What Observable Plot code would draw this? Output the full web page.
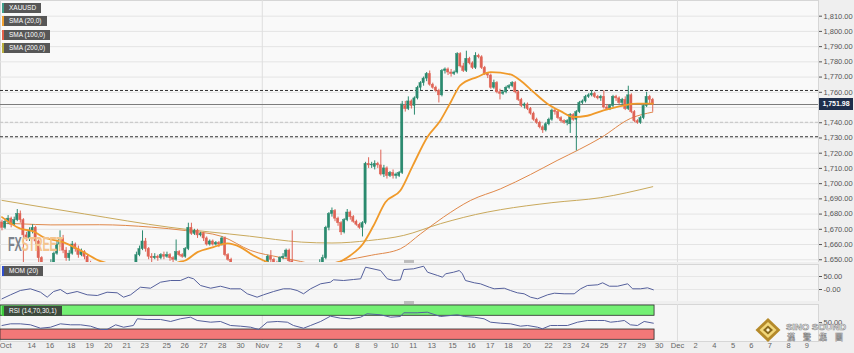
<!DOCTYPE html>
<html><head><meta charset="utf-8">
<script src="https://cdn.jsdelivr.net/npm/d3@7"></script>
<script src="https://cdn.jsdelivr.net/npm/@observablehq/plot@0.6"></script>
<style>
body{margin:0;background:#fff;font-family:"Liberation Sans",Arial,sans-serif;}
#wrap{position:relative;width:854px;height:353px;overflow:hidden;background:#efefef;}
#wrap svg{position:absolute;left:0;}
.tag{position:absolute;left:2px;height:10px;background:#575757;color:#fff;font-size:6.5px;line-height:10px;padding:0 5px 0 5px;border-left:2px solid #999;white-space:nowrap;}
.handle{position:absolute;left:404px;width:10px;height:3px;background:#bdbdbd;}
#ptag{position:absolute;left:819px;width:34px;height:12px;background:#1f2e4b;color:#fff;font-size:7px;font-weight:bold;line-height:12px;text-align:center;}
#fx{position:absolute;left:8px;top:232px;font-size:21px;font-weight:bold;transform:scaleX(0.52);transform-origin:left top;letter-spacing:-0.5px;}
#logo{position:absolute;left:755px;top:316px;width:99px;height:28px;}
</style></head><body><div id="wrap"></div>
<script>
// ---------- DATA ----------
// XAU/USD 4h candles: [open, high, low, close], bar index = position in list
const ohlc = [
[1674.5,1676,1669,1671],[1671,1677,1670,1675],[1675,1679,1673,1677],[1677,1678,1671,1673],[1673,1678,1672,1676],
[1676,1683,1675,1680],[1680,1682,1674,1676],[1676,1677,1648,1666],[1666,1668,1662,1664],[1664,1671,1662,1669],
[1669,1673,1667,1671],[1671,1672,1660,1662],[1662,1663,1648,1651],[1651,1652,1642,1645],[1645,1647,1638,1641],
[1641,1646,1639,1643],[1643,1650,1641,1648],[1648,1655,1646,1654],[1654,1662,1653,1660],[1660,1669,1658,1664],
[1664,1666,1654,1656],[1656,1658,1649,1651],[1651,1656,1649,1654],[1654,1662,1653,1660],[1660,1661,1655,1657],
[1657,1659,1651,1653],[1653,1657,1652,1655],[1655,1656,1650,1652],[1652,1653,1646,1648],[1648,1649,1640,1642],
[1642,1644,1635,1638],[1638,1643,1636,1640],[1640,1642,1633,1636],[1636,1638,1629,1632],[1632,1637,1630,1634],
[1634,1636,1627,1630],[1630,1633,1625,1628],[1628,1634,1626,1631],[1631,1633,1624,1627],[1627,1629,1621,1625],
[1625,1631,1622,1628],[1628,1630,1620,1624],[1624,1633,1618,1630],[1630,1643,1629,1641],[1641,1655,1640,1653],
[1653,1659,1652,1657],[1657,1669,1656,1662],[1662,1664,1655,1657],[1657,1658,1650,1652],[1652,1654,1648,1651],
[1651,1654,1650,1652],[1652,1653,1649,1651],[1651,1654,1650,1653],[1653,1655,1650,1652],[1652,1655,1651,1653],
[1653,1654,1649,1651],[1651,1652,1647,1650],[1650,1663,1649,1655],[1655,1656,1652,1653],[1653,1654,1651,1652],
[1652,1658,1651,1657],[1657,1674,1656,1671],[1671,1674,1666,1667],[1667,1670,1666,1669],[1669,1670,1664,1666],
[1666,1668,1665,1667],[1667,1668,1662,1664],[1664,1665,1659,1660],[1660,1663,1659,1662],[1662,1663,1659,1660],
[1660,1662,1659,1661],[1661,1662,1658,1660],[1660,1665,1659,1664],[1664,1665,1652,1653],[1653,1654,1649,1650],
[1650,1651,1645,1647],[1647,1648,1641,1643],[1643,1647,1641,1645],[1645,1646,1639,1641],[1641,1646,1640,1644],
[1644,1645,1638,1640],[1640,1644,1638,1642],[1642,1643,1636,1639],[1639,1643,1637,1641],[1641,1643,1636,1638],
[1638,1645,1637,1643],[1643,1649,1642,1647],[1647,1653,1646,1652],[1652,1656,1648,1650],[1650,1651,1646,1648],
[1648,1649,1645,1647],[1647,1652,1646,1651],[1651,1654,1650,1652],[1652,1657,1651,1656],[1656,1657,1647,1649],
[1649,1669,1644,1646],[1646,1647,1636,1638],[1638,1640,1630,1632],[1632,1634,1627,1630],[1630,1632,1624,1628],
[1628,1630,1617,1625],[1625,1632,1623,1630],[1630,1637,1628,1635],[1635,1644,1634,1642],[1642,1650,1640,1648],
[1648,1653,1646,1651],[1651,1672,1650,1671],[1671,1681,1669,1680],[1680,1684,1678,1682],[1682,1683,1675,1677],
[1677,1678,1672,1674],[1674,1675,1666,1668],[1668,1677,1667,1676],[1676,1683,1675,1681],[1681,1682,1676,1678],
[1678,1679,1674,1675],[1675,1676,1672,1673],[1673,1674,1670,1671],[1671,1675,1665,1674],[1674,1714,1673,1713],
[1713,1717,1710,1712],[1712,1714,1710,1712.5],[1711,1715,1709,1713],[1713,1714,1710,1712],[1712,1722,1705,1706],
[1706,1712,1704,1710],[1710,1711,1703,1705],[1705,1708,1704,1707],[1707,1709,1703,1705],[1705,1707,1703,1706],
[1705,1708,1704,1707],[1707,1754,1706,1752],[1751,1754,1747,1749],[1749,1757,1748,1754],[1754,1755,1749,1751],
[1751,1757,1745,1756],[1756,1764,1755,1763],[1763,1767,1761,1766],[1766,1770,1764,1769],[1769,1773,1767,1772],
[1772,1774,1764,1765],[1765,1766,1762,1763],[1763,1764,1760,1761],[1761,1762,1753,1758],[1758,1775,1757,1774],
[1774,1776,1772,1775],[1775,1776,1771,1773],[1773,1775,1770,1772],[1772,1774,1771,1773],[1773,1786,1772,1785],
[1785,1786,1776,1777],[1777,1779,1773,1774],[1774,1787,1773,1782],[1782,1783,1778,1779],[1779,1780,1775,1776],
[1776,1786,1775,1784],[1784,1785,1782,1783],[1783,1784,1775,1776],[1776,1777,1771,1772],[1772,1773,1769,1771],
[1771,1772,1762,1763],[1763,1768,1762,1766],[1766,1767,1759,1760],[1760,1762,1755,1759],[1759,1761,1758,1760],
[1760,1764,1759,1763],[1763,1765,1762,1764],[1764,1767,1763,1766],[1766,1767,1759,1760],[1760,1761,1754,1755],
[1755,1756,1750,1751],[1751,1753,1749,1752],[1752,1753,1748,1749],[1749,1750,1745,1746],[1746,1747,1741,1742],
[1742,1743,1739,1740],[1740,1741,1736,1737],[1737,1738,1733,1735],[1735,1740,1734,1739],[1739,1743,1738,1742],
[1742,1749,1741,1748],[1748,1749,1745,1747],[1747,1748,1742,1743],[1743,1744,1740,1741],[1741,1742,1739,1740],
[1740,1742,1738,1741],[1739,1746,1733,1745],[1745,1746,1741,1742],[1742,1748,1721.5,1747],[1747,1754,1746,1753],
[1753,1755,1752,1754],[1754,1758,1753,1757],[1757,1759,1756,1758],[1758,1761,1757,1759],[1759,1760,1756,1757],
[1757,1758,1755,1756],[1756,1758,1754,1757],[1757,1761,1749,1750],[1750,1752,1748,1749],[1749,1752,1748,1751],
[1751,1758,1750,1757],[1757,1758,1754,1756],[1756,1757,1752,1753],[1753,1756,1751,1755],[1755,1757,1748,1749],
[1749,1764,1748,1758],[1758,1759,1746,1747],[1747,1748,1740,1741],[1741,1742,1739,1740],[1740,1744,1739,1743],
[1743,1752,1742,1751],[1751,1760,1750,1757],[1757,1758,1752,1755],[1755,1756,1747,1751.98]
];
const lastPrice = 1751.98;
// moving averages: [bar index, value]
const sma20 = [[0,1678],[6,1670.4],[10.3,1668.6],[13.6,1664.8],[20,1661.6],[26.7,1655],[32.2,1649.1],[36,1647],[42,1645],[48,1644],[55,1646],[58,1648.5],
 [60,1649.5],[64,1655],[69.2,1658.3],[73.8,1660.7],[78,1658.3],[82.3,1652.8],[85.6,1649.5],[90,1646],[96,1645],[102,1644],[107,1646.5],
 [111.4,1649.5],[114,1652.8],[118.3,1660.9],[121.5,1672],[125.5,1687.8],[130.4,1695.5],[134.5,1712],[139.2,1730.5],[143.5,1741.5],[147,1754],[150,1764.5],
 [155.5,1770],[160,1773.2],[166.4,1771.7],[169.7,1767.8],[174,1760.1],[178.5,1752.5],[182.8,1747.6],[187.1,1743.7],[191.6,1744.6],
 [196.9,1748.1],[203.4,1751.3],[207.9,1752.5],[213,1752.5]];
const sma100 = [[0,1674],[6,1673.6],[16,1672.9],[32,1673],[49,1671.4],[60,1669.2],[72,1665.3],[81.4,1656.1],[91.2,1651.5],[97.7,1648.9],
 [104,1646.5],[111.8,1649.5],[121,1653],[130.4,1657.2],[137,1667],[144.5,1678],[153.4,1689],[163.2,1696.6],[173,1706],[181.7,1715.2],
 [189,1722.5],[196,1730.1],[205.7,1742.8],[213,1747]];
const sma200 = [[0,1689],[27,1680.1],[55,1671.3],[81,1665.5],[98,1661.6],[108,1661],[120,1662.6],[131.5,1666],[143.5,1673.7],[158.8,1681.3],
 [163.2,1682.9],[180,1687.5],[196,1690.8],[213,1698]];
// horizontal levels
const levelsDark = [1761.2, 1730.8];
const levelsLight = [1740.3];
const priceTicks = [1650,1660,1670,1680,1690,1700,1710,1720,1730,1740,1760,1770,1780,1790,1800,1810];
// momentum (20) : [bar index, value]
const mom = [[0,-35.8],[2.8,-20.4],[6,-3.8],[9.3,2.7],[12.6,-10.4],[14.8,-29.6],[16.9,-7.7],[19.1,0],[21.3,-16.5],[24.6,-7.7],[27.9,-20.4],
 [31.2,-23.1],[34.4,-10.4],[37.7,-12.7],[39.8,-29.6],[42.1,-20.4],[45.3,8.8],[48.6,5],[51.9,28.1],[55.2,34.6],[58.4,34.6],[61,47.3],
 [62.7,41.2],[65,15.4],[68.3,5],[71.5,12.7],[74.8,2.7],[78.1,2.7],[80.3,-16.5],[83.5,-29.6],[85.6,-20.4],[88.9,-7.7],[92.1,2.7],[94.4,2.7],
 [96.6,-3.8],[98.7,-16.5],[101,2.7],[104.3,21.9],[107.5,28.1],[108.5,37.3],[111.8,34.6],[115.1,38.5],[117.4,41.2],[119,85.8],[123.9,73.1],
 [126.1,41.2],[128.2,34.6],[130.4,37.3],[131.5,76.9],[134.7,79.6],[138,89.6],[139.3,66.5],[142.6,53.8],[144.2,47.3],[145.2,60.4],[147.8,66.5],
 [149.7,73.1],[150.7,60.4],[151.7,34.6],[154.6,25.8],[156.6,21.9],[159.5,8.8],[161.1,2.7],[164.4,5],[166.4,-3.8],[168.7,-12.7],[170.9,-16.5],
 [173,-29.6],[175.3,-35.8],[178.6,-20.4],[180.8,-14.2],[184,-16.5],[187.3,-16.5],[189.4,2.7],[191.6,15.4],[195,18.1],[196.6,25.8],[198.8,12.7],
 [201.5,12.7],[204.8,21.9],[206.4,2.7],[209,2.7],[211.3,6.5],[213.2,-1.2]];
// RSI (14) : [bar index, value]
const rsi = [[0,41.7],[2.8,46.6],[6,46.6],[9.3,43.7],[12.6,33.8],[15.9,36.7],[19.1,46.6],[22.4,43.7],[25.7,43.7],[29,39.7],[32.2,30],[34.4,30],
 [37.2,43.7],[39.8,36.7],[43,41.7],[44.3,61.2],[47.5,59.2],[51.9,59.2],[55.2,53.4],[58.4,61.2],[61.7,65.9],[63.9,56.3],[68.3,51.3],[71.5,53.4],
 [74.8,41.7],[78.1,39.7],[81.4,36.7],[84,30],[86.8,51.3],[90.1,53.4],[93.4,51.3],[95.4,41.7],[98.7,33.8],[101,41.7],[104.3,53.4],[107.5,68.8],
 [110.8,63],[114.1,61.2],[117.4,65.9],[119.5,75.8],[123.9,72.9],[127.2,65.9],[130.4,67.9],[131.5,78.7],[135.9,78.7],[139.2,80.5],[143.5,67.9],
 [146.8,70.8],[149.1,72.9],[151.3,67.9],[154.6,65.9],[157.8,61.2],[159.9,51.3],[163.2,48.4],[166.5,46.6],[169.7,39.7],[172,41.7],[175.3,36.7],
 [176.9,32.1],[179.5,41.7],[181.8,41.7],[185.1,41.7],[188.4,51.3],[191.6,56.3],[195,56.3],[197.2,56.3],[199.2,51.3],[201.5,53.4],[203.7,56.3],
 [205.7,43.7],[208,41.7],[210.2,53.4],[213.2,48.4]];
const rsiBands = [{lo:70, hi:100, fill:"#74f074"}, {lo:0, hi:30, fill:"#f27878"}];
// date axis labels at bar positions
const xTickPos = [1.2,9.7,15.7,22.7,28.7,34.8,40.8,46.7,53.9,59.8,65.9,72.1,78.1,85.2,91.2,97.2,103.2,109.2,116.3,122.3,128.5,134.6,
 140.7,147.5,153.7,159.8,165.8,171.8,178.9,184.9,190.9,197.1,203.1,209.4,215.1,221.1,227,233.2,239.3,245.3,251.3,257.5,263.4];
const xTickLabels = ["Oct","14","16","18","19","20","21","23","25","26","27","28","30","Nov","2","3","4","6","8","9","10","11",
 "13","15","16","17","18","20","22","23","24","25","27","29","30","Dec","2","4","5","6","7","8","9"];

// ---------- DRAW ----------
const FONT = '"Liberation Sans", Arial, sans-serif';
const GREEN = "#2b8a6f", RED = "#df6456";
const xDomain = [-0.49, 267.26];
const wrap = document.getElementById("wrap");
const bars = ohlc.map(([o,h,l,c], i) => ({i, o, h, l, c, col: c >= o ? GREEN : RED}));
const xt = xTickPos.map((p, k) => ({pos: p, label: xTickLabels[k]}));
const monthLines = xt.filter(d => /[A-Za-z]/.test(d.label) && d.pos > 5);
const gridTicks = d3.range(1650, 1811, 10);
const style = {background: "transparent", fontFamily: FONT, fontSize: "7.5px", color: "#555"};

const main = Plot.plot({
  width: 854, height: 262, marginLeft: 0, marginRight: 36, marginTop: 0, marginBottom: 0, style,
  x: {domain: xDomain, axis: null},
  y: {domain: [1648.2, 1820.3], axis: "right", ticks: priceTicks, tickFormat: d3.format(",.2f"), tickSize: 3, tickPadding: 2, label: null},
  marks: [
    Plot.frame({fill: "#f9f9f9", stroke: "#d6d6d6"}),
    Plot.ruleY(gridTicks, {stroke: "#e4e4e4"}),
    Plot.ruleX(monthLines, {x: "pos", stroke: "#dedede"}),
    Plot.ruleY(levelsLight, {stroke: "#c4c4c4", strokeDasharray: "3,2"}),
    Plot.ruleY(levelsDark, {stroke: "#333", strokeDasharray: "3,2"}),
    Plot.ruleY([lastPrice], {stroke: "#7c7c7c", strokeWidth: 1.2}),
    Plot.line(sma200, {x: d => d[0], y: d => d[1], stroke: "#c9a95c", strokeWidth: 1, curve: "monotone-x", clip: true}),
    Plot.line(sma100, {x: d => d[0], y: d => d[1], stroke: "#e0884a", strokeWidth: 1, curve: "monotone-x", clip: true}),
    Plot.ruleX(bars, {x: "i", y1: "l", y2: "h", stroke: "col", strokeWidth: 1, clip: true}),
    Plot.rect(bars, {x1: d => d.i - 0.36, x2: d => d.i + 0.36, y1: "o", y2: "c", fill: "col", stroke: "col", strokeWidth: 0.5, clip: true}),
    Plot.line(sma20, {x: d => d[0], y: d => d[1], stroke: "#f09a2a", strokeWidth: 1.8, curve: "monotone-x", clip: true})
  ]
});
main.style.top = "0px";
wrap.appendChild(main);

const momPlot = Plot.plot({
  width: 854, height: 37, marginLeft: 0, marginRight: 36, marginTop: 0, marginBottom: 0, style,
  x: {domain: xDomain, axis: null},
  y: {domain: [-46.15, 96.2], axis: "right", ticks: [0, 50], tickFormat: d => d === 0 ? "-0.00" : d3.format(",.2f")(d), tickSize: 3, tickPadding: 2, label: null},
  marks: [
    Plot.frame({fill: "#f6f6f6", stroke: "#d6d6d6"}),
    Plot.ruleY([0, 50], {stroke: "#e6e6e6"}),
    Plot.ruleX(monthLines, {x: "pos", stroke: "#dedede"}),
    Plot.line(mom, {x: d => d[0], y: d => d[1], stroke: "#55609c", strokeWidth: 1})
  ]
});
momPlot.style.top = "264px";
wrap.appendChild(momPlot);

const rsiPlot = Plot.plot({
  width: 854, height: 49, marginLeft: 0, marginRight: 36, marginTop: 0, marginBottom: 12, style,
  x: {domain: xDomain, axis: null},
  y: {domain: [-4.96, 102.9], axis: "right", ticks: [50], tickFormat: d3.format(",.2f"), tickSize: 3, tickPadding: 2, label: null},
  marks: [
    Plot.frame({fill: "#f6f6f6", stroke: "#d6d6d6"}),
    Plot.ruleX(monthLines, {x: "pos", stroke: "#dedede"}),
    Plot.rect(rsiBands, {x1: () => xDomain[0], x2: () => ohlc.length - 0.4, y1: "lo", y2: "hi", fill: "fill", stroke: "#2b2b2b", strokeWidth: 0.8}),
    Plot.line(rsi, {x: d => d[0], y: d => d[1], stroke: "#55609c", strokeWidth: 1}),
    Plot.text(xt, {x: "pos", text: "label", frameAnchor: "bottom", dy: 6.5, fill: "#666", fontSize: 7.5})
  ]
});
rsiPlot.style.top = "304px";
wrap.appendChild(rsiPlot);

// price tag
const yTag = main.scale("y").apply(lastPrice);
const tag = document.createElement("div");
tag.id = "ptag"; tag.style.top = (yTag - 6) + "px"; tag.textContent = d3.format(",.2f")(lastPrice);
wrap.appendChild(tag);

// legend tags
[["XAUUSD", 3, "#3f9f8c"], ["SMA (20,0)", 16, "#f0a030"], ["SMA (100,0)", 30, "#e2604a"], ["SMA (200,0)", 43, "#b9ae3c"],
 ["MOM (20)", 266, "#2f4fd0"], ["RSI (14,70,30,1)", 306, "#3bc83b"]].forEach(([t, top, c]) => {
  const d = document.createElement("div");
  d.className = "tag"; d.textContent = t; d.style.top = top + "px"; d.style.borderLeftColor = c;
  if (t.startsWith("RSI")) d.style.background = "#3d4a3d";
  wrap.appendChild(d);
});
// pane handles
[260, 301].forEach(t => { const h = document.createElement("div"); h.className = "handle"; h.style.top = t + "px"; wrap.appendChild(h); });

// watermark
const fx = document.createElement("div");
fx.id = "fx";
fx.innerHTML = '<span style="color:#7d828c">FX</span><span style="color:#f4c48e">STREET</span>';
wrap.appendChild(fx);

const logo = document.createElement("div");
logo.id = "logo";
logo.innerHTML = `<svg width="99" height="28" style="position:absolute;left:0;top:0">
 <polygon points="13,2 25.5,14 13,26 0.5,14" fill="#b58a2a"/>
 <polygon points="13,6 21.5,14 13,22 4.5,14" fill="#f2d77a"/>
 <polygon points="13,9.5 18,14 13,18.5 8,14" fill="#8a6a1e"/>
 <polygon points="13,12 15,14 13,16 11,14" fill="#fff5cf"/>
 <text x="31" y="14" font-family="Liberation Sans, Arial" font-weight="bold" font-size="9.5" fill="#fff" stroke="#8a8a8a" stroke-width="0.6">SINO SOUND</text>
 <text x="32" y="23.5" font-family="Noto Sans CJK TC" font-weight="bold" font-size="8" fill="#fff" stroke="#8a8a8a" stroke-width="0.5" letter-spacing="8">漢聲集團</text>
</svg>`;
wrap.appendChild(logo);
</script></body></html>
